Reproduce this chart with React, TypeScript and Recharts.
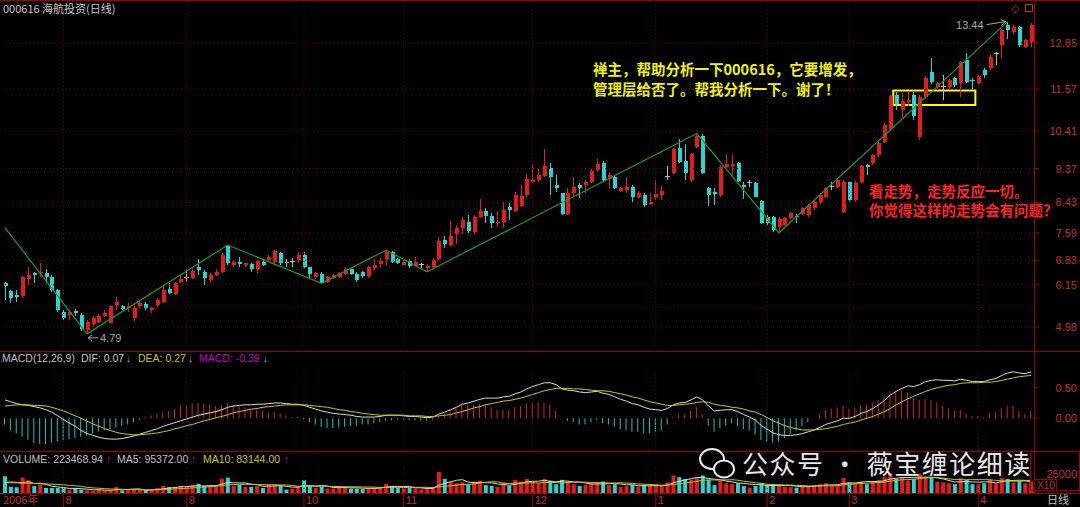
import React from 'react';
import { ComposedChart, Bar, Line, XAxis, YAxis, ReferenceLine, ReferenceArea, ReferenceDot, Cell } from 'recharts';

// 000616 海航投资 日线, 2006-07 .. 2007-04
const opens = [
  6.21, 5.99, 5.87, 5.84, 6.30, 6.47, 6.47, 6.47, 6.36, 6.01,
  5.40, 5.31, 5.43, 5.31, 4.90, 5.05, 5.13, 5.28, 5.10, 5.58,
  5.56, 5.52, 5.22, 5.56, 5.62, 5.45, 5.59, 5.68, 6.02, 5.89,
  6.23, 6.35, 6.33, 6.63, 6.51, 6.29, 6.42, 6.51, 7.22, 6.70,
  6.79, 6.70, 6.72, 6.58, 6.79, 6.84, 6.79, 7.04, 6.79, 6.79,
  6.84, 6.97, 6.63, 6.37, 6.45, 6.24, 6.33, 6.37, 6.45, 6.58,
  6.45, 6.50, 6.39, 6.61, 6.72, 6.85, 7.07, 6.85, 6.70, 6.82,
  6.68, 6.70, 6.61, 6.63, 6.85, 7.39, 7.25, 7.57, 7.71, 7.90,
  7.62, 8.04, 8.18, 8.06, 7.85, 7.90, 8.30, 8.19, 8.33, 8.64,
  9.00, 9.05, 9.16, 9.38, 8.92, 8.68, 8.10, 8.70, 8.92, 8.91,
  9.01, 9.33, 9.53, 9.07, 9.13, 8.76, 8.78, 8.85, 8.59, 8.64,
  8.39, 8.59, 8.64, 9.16, 9.24, 9.93, 9.59, 9.05, 9.96, 10.27,
  8.82, 8.73, 8.64, 9.42, 9.44, 9.53, 8.91, 8.98, 8.98, 8.48,
  8.04, 8.02, 7.76, 7.81, 8.00, 8.06, 8.11, 8.08, 8.29, 8.45,
  8.59, 8.87, 8.87, 8.17, 8.99, 8.50, 9.01, 9.47, 9.51, 9.74,
  10.11, 10.47, 11.40, 11.00, 11.22, 11.41, 10.25, 11.36, 12.05, 11.64,
  11.64, 11.62, 11.87, 11.73, 12.38, 11.80, 11.73, 12.10, 12.15, 12.56,
  12.79, 13.35, 13.16, 13.30, 12.75, 12.88,
];
const highs = [
  6.22, 6.00, 6.00, 6.38, 6.63, 6.51, 6.76, 6.58, 6.42, 6.02,
  5.45, 5.45, 5.47, 5.36, 5.17, 5.28, 5.33, 5.45, 5.58, 5.82,
  5.60, 5.65, 5.62, 5.71, 5.68, 5.54, 5.77, 6.14, 6.21, 6.23,
  6.42, 6.58, 6.61, 6.85, 6.56, 6.47, 6.58, 7.02, 7.25, 6.84,
  6.91, 6.76, 6.74, 6.84, 6.85, 6.97, 7.11, 7.07, 6.85, 6.88,
  7.07, 7.07, 6.65, 6.51, 6.49, 6.40, 6.45, 6.51, 6.65, 6.60,
  6.49, 6.53, 6.67, 6.85, 6.88, 7.11, 7.09, 6.88, 6.84, 6.85,
  6.91, 6.76, 6.72, 6.88, 7.48, 7.50, 7.92, 7.81, 8.02, 8.08,
  8.08, 8.52, 8.27, 8.13, 8.20, 8.45, 8.41, 8.73, 8.91, 9.22,
  9.49, 9.35, 9.90, 9.51, 9.19, 8.70, 8.82, 9.13, 8.96, 9.05,
  9.37, 9.62, 9.59, 9.26, 9.16, 8.86, 9.13, 8.91, 8.76, 8.70,
  8.68, 9.05, 8.89, 9.44, 9.93, 10.18, 10.06, 9.81, 10.34, 10.33,
  8.87, 8.82, 9.47, 9.77, 9.77, 9.56, 9.01, 9.05, 9.01, 8.50,
  8.08, 8.05, 8.04, 8.02, 8.17, 8.11, 8.30, 8.40, 8.50, 8.70,
  8.86, 9.01, 9.10, 9.06, 9.03, 9.02, 9.47, 9.50, 9.78, 10.10,
  10.62, 11.42, 11.48, 11.45, 11.50, 11.50, 11.40, 11.92, 12.42, 11.78,
  11.96, 11.85, 11.90, 12.36, 12.56, 11.87, 11.96, 12.15, 12.52, 12.61,
  13.23, 13.44, 13.35, 13.32, 12.97, 13.40,
];
const lows = [
  5.73, 5.65, 5.68, 5.77, 6.14, 6.21, 6.37, 6.21, 5.96, 5.40,
  5.17, 5.17, 5.28, 4.88, 4.79, 4.99, 5.10, 5.25, 5.08, 5.45,
  5.45, 5.40, 5.16, 5.50, 5.45, 5.38, 5.54, 5.65, 5.89, 5.87,
  6.19, 6.24, 6.30, 6.42, 6.14, 6.21, 6.39, 6.47, 6.70, 6.63,
  6.65, 6.65, 6.51, 6.47, 6.67, 6.79, 6.74, 6.70, 6.63, 6.65,
  6.74, 6.61, 6.33, 6.30, 6.19, 6.20, 6.30, 6.35, 6.42, 6.42,
  6.24, 6.35, 6.33, 6.56, 6.65, 6.70, 6.74, 6.72, 6.67, 6.61,
  6.65, 6.61, 6.51, 6.60, 6.84, 7.16, 7.21, 7.28, 7.57, 7.59,
  7.55, 7.99, 7.85, 7.71, 7.76, 7.71, 7.94, 8.17, 8.31, 8.57,
  8.96, 9.01, 9.14, 8.64, 8.73, 8.08, 8.08, 8.59, 8.54, 8.68,
  8.96, 9.28, 9.01, 8.82, 8.79, 8.73, 8.70, 8.45, 8.54, 8.30,
  8.36, 8.50, 8.50, 9.05, 9.22, 9.53, 9.05, 9.01, 9.93, 9.22,
  8.33, 8.36, 8.59, 9.38, 9.14, 9.01, 8.52, 8.87, 8.57, 7.83,
  7.81, 7.62, 7.59, 7.78, 7.96, 7.85, 8.08, 8.04, 8.22, 8.40,
  8.55, 8.78, 8.82, 8.15, 8.47, 8.45, 8.98, 9.19, 9.47, 9.70,
  10.07, 10.42, 11.00, 10.75, 11.10, 10.71, 10.15, 11.30, 11.70, 11.55,
  11.27, 11.58, 11.64, 11.36, 11.75, 11.55, 11.70, 11.88, 12.10, 12.24,
  12.42, 12.95, 13.10, 12.75, 12.72, 12.75,
];
const closes = [
  6.12, 5.79, 5.82, 6.36, 6.42, 6.42, 6.51, 6.37, 6.01, 5.45,
  5.22, 5.40, 5.36, 4.92, 5.13, 5.22, 5.28, 5.36, 5.56, 5.68,
  5.49, 5.56, 5.50, 5.65, 5.52, 5.50, 5.73, 6.00, 5.93, 6.19,
  6.30, 6.35, 6.54, 6.56, 6.33, 6.42, 6.51, 6.97, 6.74, 6.79,
  6.72, 6.74, 6.58, 6.82, 6.70, 6.91, 7.09, 6.74, 6.74, 6.79,
  6.97, 6.65, 6.45, 6.47, 6.21, 6.37, 6.42, 6.47, 6.60, 6.45,
  6.28, 6.39, 6.65, 6.70, 6.82, 7.07, 6.79, 6.76, 6.79, 6.67,
  6.77, 6.70, 6.68, 6.84, 7.37, 7.28, 7.50, 7.71, 7.94, 7.65,
  8.04, 8.18, 8.06, 7.85, 7.90, 8.22, 8.22, 8.64, 8.61, 9.07,
  9.05, 9.19, 9.44, 9.14, 8.82, 8.10, 8.70, 8.87, 8.82, 9.01,
  9.31, 9.50, 9.05, 9.19, 8.82, 8.82, 8.85, 8.59, 8.70, 8.36,
  8.45, 8.66, 8.76, 9.16, 9.90, 9.56, 9.24, 9.77, 10.27, 9.24,
  8.64, 8.66, 9.40, 9.49, 9.49, 9.03, 8.87, 8.98, 8.59, 7.85,
  7.85, 7.67, 7.96, 7.99, 8.13, 8.02, 8.27, 8.36, 8.45, 8.64,
  8.82, 8.87, 9.05, 9.01, 8.50, 8.98, 9.44, 9.42, 9.74, 10.07,
  10.58, 11.38, 11.15, 11.25, 11.27, 10.82, 11.36, 11.87, 11.78, 11.73,
  11.64, 11.82, 11.68, 12.33, 11.78, 11.77, 11.93, 11.96, 12.47, 12.56,
  13.21, 13.20, 13.30, 12.79, 12.93, 13.35,
];
const volumes = [
  190000, 70000, 65000, 175000, 145000, 80000, 95000, 57000, 57000, 57000,
  57000, 38000, 57000, 38000, 30000, 23000, 38000, 30000, 30000, 68000,
  30000, 34000, 34000, 34000, 34000, 34000, 57000, 80000, 68000, 68000,
  80000, 68000, 95000, 105000, 80000, 68000, 68000, 162000, 175000, 80000,
  95000, 68000, 68000, 80000, 57000, 95000, 95000, 80000, 38000, 49000,
  68000, 145000, 80000, 57000, 68000, 49000, 49000, 80000, 68000, 49000,
  49000, 45000, 57000, 60000, 70000, 105000, 80000, 60000, 55000, 60000,
  55000, 40000, 45000, 60000, 240000, 160000, 130000, 110000, 120000, 100000,
  130000, 140000, 90000, 80000, 70000, 120000, 80000, 150000, 130000, 160000,
  120000, 110000, 160000, 140000, 100000, 150000, 130000, 100000, 80000, 90000,
  110000, 120000, 130000, 90000, 100000, 70000, 80000, 90000, 70000, 90000,
  80000, 90000, 80000, 120000, 200000, 180000, 160000, 150000, 170000, 200000,
  150000, 90000, 140000, 110000, 100000, 110000, 80000, 60000, 80000, 110000,
  90000, 90000, 80000, 70000, 70000, 60000, 70000, 80000, 90000, 100000,
  110000, 80000, 90000, 170000, 120000, 110000, 130000, 100000, 130000, 150000,
  180000, 220000, 160000, 170000, 140000, 160000, 220000, 180000, 170000, 130000,
  120000, 110000, 100000, 170000, 150000, 100000, 100000, 110000, 150000, 110000,
  170000, 160000, 120000, 140000, 110000, 130000,
];
const volMa5 = [
  120000, 125000, 120000, 115000, 130000, 107000, 112000, 98000, 77000, 69000,
  62000, 52000, 53000, 49000, 44000, 37000, 37000, 32000, 30000, 38000,
  38000, 40000, 45000, 46000, 31000, 34000, 39000, 48000, 55000, 62000,
  71000, 73000, 78000, 83000, 80000, 85000, 83000, 100000, 120000, 116000,
  115000, 113000, 100000, 95000, 76000, 76000, 80000, 84000, 75000, 67000,
  66000, 85000, 83000, 80000, 84000, 80000, 62000, 60000, 62000, 59000,
  59000, 55000, 53000, 52000, 56000, 67000, 74000, 75000, 74000, 73000,
  62000, 58000, 51000, 52000, 88000, 111000, 126000, 144000, 152000, 124000,
  118000, 120000, 118000, 116000, 102000, 96000, 88000, 98000, 110000, 128000,
  132000, 134000, 144000, 132000, 126000, 136000, 135000, 125000, 124000, 114000,
  102000, 102000, 104000, 106000, 110000, 102000, 94000, 94000, 82000, 82000,
  82000, 84000, 82000, 90000, 116000, 134000, 146000, 162000, 176000, 176000,
  166000, 156000, 150000, 136000, 126000, 113000, 109000, 101000, 96000, 93000,
  86000, 86000, 86000, 86000, 86000, 76000, 72000, 72000, 76000, 84000,
  90000, 92000, 94000, 110000, 114000, 114000, 122000, 130000, 130000, 130000,
  140000, 158000, 168000, 176000, 174000, 178000, 180000, 180000, 178000, 172000,
  160000, 142000, 126000, 126000, 130000, 126000, 124000, 126000, 126000, 114000,
  128000, 138000, 142000, 146000, 142000, 144000,
];
const volMa10 = [
  115000, 117000, 116000, 113000, 110000, 108000, 105000, 103000, 100000, 97000,
  92000, 87000, 82000, 75000, 65000, 58000, 54000, 50000, 46000, 44000,
  42000, 40000, 39000, 38000, 37000, 36000, 38000, 40000, 43000, 47000,
  50000, 53000, 58000, 63000, 67000, 72000, 76000, 84000, 94000, 97000,
  98000, 98000, 98000, 96000, 95000, 94000, 93000, 92000, 90000, 86000,
  76000, 78000, 78000, 76000, 76000, 76000, 74000, 73000, 71000, 71000,
  70000, 68000, 68000, 66000, 63000, 63000, 64000, 64000, 63000, 63000,
  64000, 65000, 64000, 62000, 70000, 75000, 83000, 90000, 97000, 98000,
  103000, 114000, 121000, 128000, 126000, 110000, 107000, 112000, 113000, 114000,
  117000, 112000, 120000, 120000, 118000, 114000, 118000, 125000, 123000, 123000,
  119000, 119000, 116000, 114000, 112000, 116000, 113000, 110000, 102000, 100000,
  96000, 93000, 88000, 91000, 96000, 107000, 114000, 122000, 133000, 144000,
  149000, 148000, 148000, 149000, 151000, 145000, 133000, 126000, 116000, 110000,
  100000, 96000, 94000, 91000, 90000, 87000, 85000, 80000, 80000, 80000,
  82000, 82000, 84000, 93000, 98000, 103000, 108000, 111000, 115000, 119000,
  124000, 135000, 144000, 150000, 152000, 156000, 166000, 170000, 175000, 175000,
  169000, 160000, 153000, 151000, 150000, 152000, 152000, 152000, 150000, 144000,
  138000, 135000, 134000, 136000, 136000, 128000,
];
const difs = [
  0.30, 0.27, 0.24, 0.22, 0.21, 0.19, 0.17, 0.14, 0.10, 0.04,
  -0.02, -0.08, -0.13, -0.20, -0.25, -0.28, -0.31, -0.33, -0.34, -0.34,
  -0.33, -0.31, -0.29, -0.26, -0.23, -0.20, -0.17, -0.13, -0.10, -0.07,
  -0.04, -0.01, 0.02, 0.05, 0.07, 0.09, 0.11, 0.14, 0.18, 0.20,
  0.21, 0.22, 0.22, 0.23, 0.23, 0.24, 0.25, 0.25, 0.24, 0.23,
  0.23, 0.21, 0.18, 0.15, 0.12, 0.10, 0.08, 0.07, 0.06, 0.05,
  0.03, 0.02, 0.02, 0.02, 0.03, 0.05, 0.05, 0.05, 0.04, 0.03,
  0.03, 0.02, 0.01, 0.02, 0.07, 0.10, 0.14, 0.18, 0.23, 0.25,
  0.28, 0.31, 0.33, 0.33, 0.33, 0.35, 0.36, 0.40, 0.43, 0.48,
  0.52, 0.55, 0.58, 0.58, 0.55, 0.48, 0.46, 0.45, 0.43, 0.42,
  0.43, 0.44, 0.41, 0.39, 0.35, 0.31, 0.28, 0.24, 0.22, 0.18,
  0.15, 0.14, 0.13, 0.16, 0.22, 0.25, 0.26, 0.30, 0.35, 0.30,
  0.20, 0.12, 0.13, 0.14, 0.14, 0.11, 0.06, 0.02, -0.03, -0.12,
  -0.18, -0.24, -0.27, -0.28, -0.28, -0.27, -0.25, -0.22, -0.19, -0.15,
  -0.10, -0.07, -0.04, 0.00, 0.00, 0.03, 0.08, 0.11, 0.16, 0.22,
  0.29, 0.38, 0.44, 0.49, 0.53, 0.52, 0.55, 0.60, 0.62, 0.63,
  0.62, 0.62, 0.61, 0.64, 0.62, 0.60, 0.60, 0.60, 0.63, 0.65,
  0.70, 0.74, 0.76, 0.74, 0.73, 0.76,
];
const deas = [
  0.20, 0.21, 0.22, 0.22, 0.22, 0.21, 0.21, 0.20, 0.18, 0.15,
  0.12, 0.08, 0.04, 0.00, -0.05, -0.09, -0.13, -0.17, -0.20, -0.23,
  -0.25, -0.26, -0.27, -0.27, -0.26, -0.25, -0.24, -0.22, -0.20, -0.17,
  -0.15, -0.12, -0.10, -0.07, -0.04, -0.02, 0.01, 0.03, 0.06, 0.09,
  0.11, 0.13, 0.15, 0.16, 0.18, 0.19, 0.20, 0.21, 0.22, 0.22,
  0.22, 0.22, 0.21, 0.20, 0.19, 0.18, 0.16, 0.14, 0.13, 0.11,
  0.10, 0.08, 0.07, 0.06, 0.05, 0.05, 0.05, 0.05, 0.05, 0.04,
  0.04, 0.04, 0.03, 0.03, 0.04, 0.05, 0.06, 0.09, 0.11, 0.14,
  0.17, 0.19, 0.22, 0.24, 0.26, 0.28, 0.29, 0.31, 0.33, 0.36,
  0.39, 0.42, 0.45, 0.47, 0.49, 0.49, 0.49, 0.48, 0.48, 0.47,
  0.46, 0.45, 0.45, 0.44, 0.42, 0.40, 0.38, 0.35, 0.33, 0.30,
  0.27, 0.25, 0.23, 0.21, 0.21, 0.22, 0.23, 0.24, 0.26, 0.27,
  0.26, 0.23, 0.21, 0.20, 0.18, 0.17, 0.15, 0.12, 0.10, 0.06,
  0.01, -0.04, -0.08, -0.12, -0.15, -0.17, -0.19, -0.19, -0.19, -0.18,
  -0.17, -0.15, -0.13, -0.10, -0.08, -0.06, -0.03, 0.00, 0.03, 0.07,
  0.11, 0.16, 0.22, 0.27, 0.32, 0.36, 0.40, 0.44, 0.47, 0.50,
  0.52, 0.54, 0.55, 0.57, 0.58, 0.58, 0.58, 0.59, 0.59, 0.60,
  0.62, 0.64, 0.66, 0.68, 0.69, 0.70,
];
const macdBars = [
  -0.10, -0.20, -0.25, -0.30, -0.35, -0.40, -0.42, -0.42, -0.40, -0.38,
  -0.36, -0.34, -0.32, -0.30, -0.28, -0.25, -0.22, -0.20, -0.18, -0.15,
  -0.12, -0.10, -0.06, -0.02, 0.02, 0.05, 0.08, 0.10, 0.12, 0.15,
  0.20, 0.22, 0.24, 0.25, 0.24, 0.22, 0.20, 0.22, 0.25, 0.22,
  0.20, 0.18, 0.15, 0.14, 0.12, 0.10, 0.10, 0.08, 0.05, 0.02,
  0.02, -0.02, -0.06, -0.10, -0.14, -0.16, -0.16, -0.15, -0.14, -0.12,
  -0.12, -0.10, -0.10, -0.08, -0.06, -0.04, -0.03, -0.02, -0.02, -0.03,
  -0.03, -0.04, -0.04, -0.02, 0.04, 0.08, 0.14, 0.18, 0.22, 0.22,
  0.22, 0.24, 0.22, 0.18, 0.14, 0.14, 0.14, 0.18, 0.20, 0.24,
  0.26, 0.26, 0.26, 0.22, 0.12, 0.00, -0.04, -0.06, -0.10, -0.10,
  -0.06, -0.02, -0.08, -0.10, -0.14, -0.18, -0.20, -0.22, -0.22, -0.24,
  -0.24, -0.22, -0.20, -0.10, 0.02, 0.06, 0.06, 0.12, 0.18, 0.06,
  -0.12, -0.22, -0.16, -0.12, -0.08, -0.12, -0.18, -0.20, -0.26, -0.36,
  -0.38, -0.40, -0.38, -0.32, -0.26, -0.20, -0.12, -0.06, 0.00, 0.06,
  0.14, 0.16, 0.18, 0.20, 0.16, 0.18, 0.22, 0.22, 0.26, 0.30,
  0.36, 0.44, 0.44, 0.44, 0.42, 0.32, 0.30, 0.32, 0.30, 0.26,
  0.20, 0.16, 0.12, 0.14, 0.08, 0.04, 0.04, 0.02, 0.08, 0.10,
  0.16, 0.20, 0.20, 0.12, 0.08, 0.12,
];

// zigzag (green) turning points
const zigIdx = [0, 14, 38, 54, 65, 72, 118, 132, 171];
const zigVal = [7.73, 4.79, 7.25, 6.19, 7.11, 6.51, 10.34, 7.59, 13.44];

const priceTicks = [4.98, 5.53, 6.15, 6.83, 7.59, 8.43, 9.37, 10.41, 11.57, 12.85];
const macdTicks = [0, 0.5];
const volTicks = [250000];
const monthIdx = [0, 10, 31, 51, 68, 90, 111, 130, 144, 166];
const monthLbl = ['2006年', '8', '9', '10', '11', '12', '1', '2', '3', '4'];

const RED = '#e41c1c';
const CYAN = '#28d4d4';
const GRAY = '#bcbcbc';
const AXIS_RED = '#c03030';
const GRID = '#7c0000';
const FRAME = '#a00000';
const NUM_FONT = '"Liberation Sans", Arial, sans-serif';
const CJK_FONT = '"Noto Sans CJK SC", "Noto Sans", sans-serif';

const rows = opens.map((o, i) => {
  const z = zigIdx.indexOf(i);
  return {
    i,
    open: o,
    high: highs[i],
    low: lows[i],
    close: closes[i],
    zig: z >= 0 ? zigVal[z] : null,
    vol: volumes[i],
    ma5: volMa5[i],
    ma10: volMa10[i],
    dif: difs[i],
    dea: deas[i],
    hist: macdBars[i],
  };
});

const candleColor = (o: number, c: number) => (c > o ? RED : c < o ? CYAN : GRAY);

const Candle = (props: any) => {
  const { x, y, width, height, payload } = props;
  if (x == null || !payload) return null;
  const { open, close, high, low } = payload;
  const color = candleColor(open, close);
  const cx = Math.floor(x + width / 2) + 0.5;
  const top = Math.min(y, y + height);
  const h = Math.abs(height);
  const k = high > low ? h / (high - low) : 0;
  const py = (v: number) => top + (high - v) * k;
  const b1 = py(Math.max(open, close));
  const b2 = py(Math.min(open, close));
  return (
    <g shapeRendering="crispEdges">
      <line x1={cx} x2={cx} y1={top} y2={top + h} stroke={color} strokeWidth={1} />
      {b2 - b1 < 1.2 ? (
        <line x1={cx - 2.5} x2={cx + 2.5} y1={b1} y2={b1} stroke={color} strokeWidth={1} />
      ) : (
        <rect x={cx - 2} y={b1} width={4} height={b2 - b1} fill={color} />
      )}
    </g>
  );
};

const rightTick = (fmt: (v: number) => string) => (p: any) => (
  <g>
    <line x1={1034} x2={1039} y1={p.y} y2={p.y} stroke={FRAME} />
    <text x={1077} y={p.y + 4} textAnchor="end" fill={AXIS_RED} fontSize={11} fontFamily={NUM_FONT}>
      {fmt(p.payload.value)}
    </text>
  </g>
);

const monthTick = (p: any) => {
  const k = monthIdx.indexOf(p.payload.value);
  const first = k === 0;
  return (
    <g>
      {!first && <line x1={p.x} x2={p.x} y1={42} y2={56} stroke={FRAME} />}
      <text x={first ? 3 : p.x + 2} y={53} fill={AXIS_RED} fontSize={11} fontFamily={first ? CJK_FONT : NUM_FONT}>
        {monthLbl[k]}
      </text>
    </g>
  );
};

const monthLines = () =>
  monthIdx.slice(1).map((m) => (
    <ReferenceLine key={'m' + m} x={m} stroke={GRID} strokeDasharray="1 3" />
  ));

const PeakLabel = (props: any) => {
  const { x, y } = props.viewBox || {};
  if (x == null) return null;
  return (
    <g>
      <text x={x - 24} y={y + 7} textAnchor="end" fill="#a8a8a8" fontSize={11} fontFamily={NUM_FONT}>13.44</text>
      <line x1={x - 21} x2={x - 2} y1={y + 3} y2={y} stroke="#a8a8a8" />
      <polyline points={`${x - 7},${y - 2} ${x - 2},${y} ${x - 6},${y + 4}`} fill="none" stroke="#a8a8a8" />
    </g>
  );
};

const LowLabel = (props: any) => {
  const { x, y } = props.viewBox || {};
  if (x == null) return null;
  return (
    <g>
      <line x1={x + 1} x2={x + 11} y1={y + 4} y2={y + 4} stroke="#a8a8a8" />
      <polyline points={`${x + 5},${y + 1} ${x + 1},${y + 4} ${x + 5},${y + 7}`} fill="none" stroke="#a8a8a8" />
      <text x={x + 13} y={y + 8} fill="#a8a8a8" fontSize={11} fontFamily={NUM_FONT}>4.79</text>
    </g>
  );
};

export default function App() {
  const margin = { top: 3, right: 0, bottom: 0, left: 2 };
  return (
    <div style={{ position: 'absolute', left: 0, top: 0, width: 1080, height: 507, background: '#000', overflow: 'hidden' }}>
      {/* price panel */}
      <div style={{ position: 'absolute', left: 0, top: 0 }}>
        <ComposedChart width={1080} height={350} data={rows} margin={margin}>
          <XAxis dataKey="i" type="category" hide />
          <YAxis
            orientation="right"
            width={46}
            domain={[4.343, 13.955]}
            allowDataOverflow
            ticks={priceTicks}
            axisLine={false}
            tickLine={false}
            tick={rightTick((v) => v.toFixed(2))}
          />
          {priceTicks.map((t) => (
            <ReferenceLine key={'p' + t} y={t} stroke={GRID} strokeDasharray="1 3" />
          ))}
          {monthLines()}
          <Bar dataKey={(d: any) => [d.low, d.high]} shape={(p: any) => <Candle {...p} />} isAnimationActive={false} />
          <Line dataKey="zig" connectNulls stroke="#1f9a1f" strokeWidth={1.2} dot={false} isAnimationActive={false} />
          <ReferenceArea x1={152} x2={165} y1={11.13} y2={11.53} fill="none" stroke="#ffff00" strokeWidth={2} ifOverflow="visible" />
          <ReferenceDot x={171} y={13.44} r={0} label={<PeakLabel />} ifOverflow="visible" />
          <ReferenceDot x={14} y={4.79} r={0} label={<LowLabel />} ifOverflow="visible" />
        </ComposedChart>
      </div>

      {/* MACD panel */}
      <div style={{ position: 'absolute', left: 0, top: 351 }}>
        <ComposedChart width={1080} height={100} data={rows} margin={{ top: 19, right: 0, bottom: 1, left: 2 }}>
          <XAxis dataKey="i" type="category" hide />
          <YAxis
            orientation="right"
            width={46}
            domain={[-0.518, 0.789]}
            allowDataOverflow
            ticks={macdTicks}
            axisLine={false}
            tickLine={false}
            tick={rightTick((v) => v.toFixed(2))}
          />
          {monthLines()}
          <Bar dataKey="hist" barSize={1} isAnimationActive={false}>
            {rows.map((r) => (
              <Cell key={r.i} fill={r.hist >= 0 ? '#d02828' : '#22c0c0'} />
            ))}
          </Bar>
          <Line dataKey="dif" stroke="#dcdcdc" strokeWidth={1} dot={false} isAnimationActive={false} />
          <Line dataKey="dea" stroke="#cccc00" strokeWidth={1} dot={false} isAnimationActive={false} />
        </ComposedChart>
      </div>

      {/* volume panel */}
      <div style={{ position: 'absolute', left: 0, top: 451 }}>
        <ComposedChart width={1080} height={56} data={rows} margin={{ top: 14, right: 0, bottom: 0, left: 2 }}>
          <XAxis
            dataKey="i"
            type="category"
            height={14}
            ticks={monthIdx}
            interval={0}
            axisLine={false}
            tickLine={false}
            tick={monthTick}
          />
          <YAxis
            orientation="right"
            width={46}
            domain={[0, 318000]}
            allowDataOverflow
            ticks={volTicks}
            axisLine={false}
            tickLine={false}
            tick={(p: any) => (
              <text x={1077} y={p.y + 7} textAnchor="end" fill={AXIS_RED} fontSize={11} fontFamily={NUM_FONT}>
                {String(p.payload.value / 10)}
              </text>
            )}
          />
          {monthLines()}
          <Bar dataKey="vol" barSize={4} isAnimationActive={false}>
            {rows.map((r) => (
              <Cell key={r.i} fill={r.close >= r.open ? RED : CYAN} />
            ))}
          </Bar>
          <Line dataKey="ma5" stroke="#d8d8d8" strokeWidth={1} dot={false} isAnimationActive={false} />
          <Line dataKey="ma10" stroke="#c8c800" strokeWidth={1} dot={false} isAnimationActive={false} />
        </ComposedChart>
      </div>

      {/* frame, headers and notes */}
      <svg width={1080} height={507} style={{ position: 'absolute', left: 0, top: 0, pointerEvents: 'none' }}>
        <g stroke={FRAME} strokeWidth={1} shapeRendering="crispEdges" fill="none">
          <line x1={0} x2={1080} y1={0.5} y2={0.5} />
          <line x1={0} x2={1080} y1={351.5} y2={351.5} />
          <line x1={0} x2={1080} y1={451.5} y2={451.5} />
          <line x1={0} x2={1080} y1={493.5} y2={493.5} />
          <line x1={1034.5} x2={1034.5} y1={0} y2={493} />
          <rect x={1030.5} y={451.5} width={49} height={39} />
          <rect x={1034.5} y={479.5} width={22} height={11} />
        </g>
        <text x={1037} y={488.5} fill={AXIS_RED} fontSize={10} fontFamily={NUM_FONT}>X10</text>
        <text x={1011} y={12} fill={AXIS_RED} fontSize={11}>◇</text>
        <rect x={1025.5} y={4.5} width={7} height={7} fill="none" stroke={AXIS_RED} />

        <text x={3} y={13} fill="#c8c8c8" fontSize={11} fontFamily={CJK_FONT}>000616 海航投资(日线)</text>

        <g fontSize={10.5} fontFamily={NUM_FONT}>
          <text x={2} y={362} fill="#c0c0c0">MACD(12,26,9)</text>
          <text x={81} y={362} fill="#c8c8c8">DIF: 0.07</text>
          <text x={126} y={362} fill="#20c8c8">↓</text>
          <text x={138} y={362} fill="#c8c800">DEA: 0.27</text>
          <text x={188} y={362} fill="#20c8c8">↓</text>
          <text x={199} y={362} fill="#c000c0">MACD: -0.39</text>
          <text x={263} y={362} fill="#20c8c8">↓</text>

          <text x={3} y={463} fill="#c0c0c0">VOLUME: 223468.94</text>
          <text x={106} y={463} fill="#e02020">↑</text>
          <text x={117} y={463} fill="#c0c0c0">MA5: 95372.00</text>
          <text x={191} y={463} fill="#e02020">↑</text>
          <text x={203} y={463} fill="#c8c800">MA10: 83144.00</text>
          <text x={284} y={463} fill="#e02020">↑</text>
        </g>
        <text x={1047} y={504} fill="#c0c0c0" fontSize={11} fontFamily={CJK_FONT}>日线</text>

        <g fontSize={14.5} fontWeight="bold" fontFamily={CJK_FONT}>
          <text x={593} y={75} fill="#f4f400">禅主，帮助分析一下000616，它要增发，</text>
          <text x={593} y={95} fill="#f4f400">管理层给否了。帮我分析一下。谢了！</text>
          <text x={869} y={197} fill="#ff2424">看走势，走势反应一切。</text>
          <text x={869} y={216} fill="#ff2424">你觉得这样的走势会有问题？</text>
        </g>

        <g stroke="#e8e8e8" strokeWidth={2} fill="#000">
          <ellipse cx={712} cy={459} rx={12} ry={10} />
          <ellipse cx={724} cy={469} rx={10} ry={8.5} />
        </g>
        <text x={742} y={474} fill="#e8e8e8" fontSize={26} fontFamily={CJK_FONT} letterSpacing={1.5}>
          公众号 · 薇宝缠论细读
        </text>
      </svg>
    </div>
  );
}
